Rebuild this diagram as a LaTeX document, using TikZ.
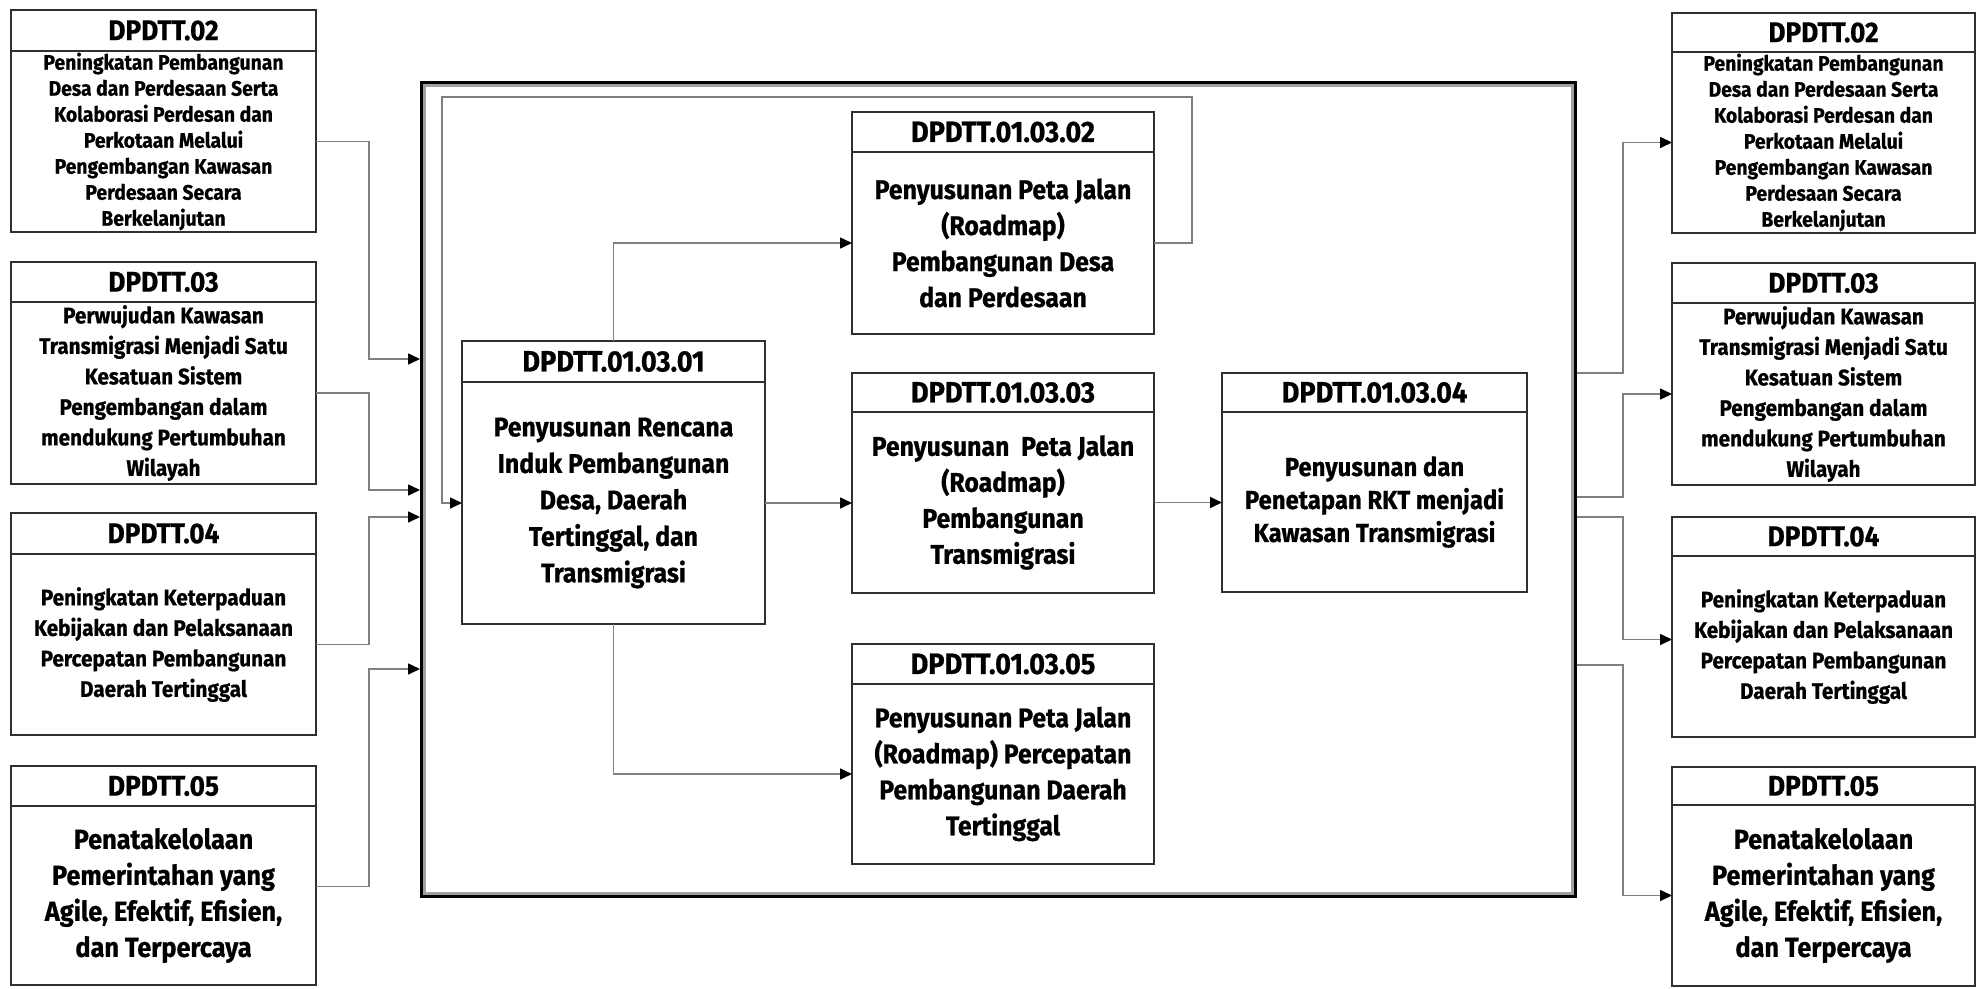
\documentclass[tikz,border=0pt]{standalone}
\usepackage{fontspec}
\setmainfont{Fira Sans}[FakeStretch=0.92, BoldFeatures={FakeBold=0.7}]
\usetikzlibrary{arrows.meta,calc}

\definecolor{boxline}{HTML}{303030}
\definecolor{wirecol}{HTML}{808080}
\definecolor{frameshade}{HTML}{A0A0A0}

\tikzset{
  hdrbox/.style={draw=boxline, line width=1.8pt, outer sep=0pt, inner sep=0pt,
    anchor=north west, font=\bfseries\fontsize{28.5}{30}\selectfont},
  bodybox/.style={draw=boxline, line width=1.8pt, outer sep=0pt, inner xsep=0pt,
    inner ysep=0pt, anchor=north west, align=center},
  wire/.style={draw=wirecol, line width=1.6pt},
  arr/.style={wire, -{Triangle[length=12pt,width=11pt,color=black,fill=black]}},
}

% #1 name, #2 x, #3 y (top), #4 width, #5 header height, #6 body height,
% #7 header text, #8 body font size {size}{skip}, #9 body text
\newcommand\mkbox[9]{%
  \node[hdrbox, minimum width=#4, minimum height=#5] (#1h) at (#2,#3) {#7};
  \node[bodybox, minimum width=#4, minimum height=#6,
    font=\bfseries\fontsize#8\selectfont] (#1) at (#1h.south west) {#9};
}

\begin{document}
\begin{tikzpicture}[x=1pt,y=-1pt]
\useasboundingbox (0,0) rectangle (1976,988);

% outer frame of the sub-activities
\node[draw=black, line width=4pt, minimum width=1153, minimum height=813, inner sep=0pt]
  (frame) at (998.5,489.5) {};
\draw[frameshade, line width=2.5pt]
  ($(frame.north west)+(4.5,4.5)$) rectangle ($(frame.south east)+(-4.5,-4.5)$);

% left column
\mkbox{L2}{11}{10}{305}{41}{181}{DPDTT.02}{{21}{26}}%
  {Peningkatan Pembangunan\\Desa dan Perdesaan Serta\\Kolaborasi Perdesan dan\\Perkotaan Melalui\\Pengembangan Kawasan\\Perdesaan Secara\\Berkelanjutan}
\mkbox{L3}{11}{262}{305}{40}{182}{DPDTT.03}{{22.5}{30.5}}%
  {Perwujudan Kawasan\\Transmigrasi Menjadi Satu\\Kesatuan Sistem\\Pengembangan dalam\\mendukung Pertumbuhan\\Wilayah}
\mkbox{L4}{11}{513}{305}{41}{181}{DPDTT.04}{{22.5}{30.5}}%
  {Peningkatan Keterpaduan\\Kebijakan dan Pelaksanaan\\Percepatan Pembangunan\\Daerah Tertinggal}
\mkbox{L5}{11}{766}{305}{40}{179}{DPDTT.05}{{27.5}{36}}%
  {Penatakelolaan\\Pemerintahan yang\\Agile, Efektif, Efisien,\\dan Terpercaya}

% right column
\mkbox{R2}{1672}{13}{303}{39}{181}{DPDTT.02}{{21}{26}}%
  {Peningkatan Pembangunan\\Desa dan Perdesaan Serta\\Kolaborasi Perdesan dan\\Perkotaan Melalui\\Pengembangan Kawasan\\Perdesaan Secara\\Berkelanjutan}
\mkbox{R3}{1672}{263}{303}{40}{182}{DPDTT.03}{{22.5}{30.5}}%
  {Perwujudan Kawasan\\Transmigrasi Menjadi Satu\\Kesatuan Sistem\\Pengembangan dalam\\mendukung Pertumbuhan\\Wilayah}
\mkbox{R4}{1672}{517}{303}{39}{181}{DPDTT.04}{{22.5}{30.5}}%
  {Peningkatan Keterpaduan\\Kebijakan dan Pelaksanaan\\Percepatan Pembangunan\\Daerah Tertinggal}
\mkbox{R5}{1672}{767}{303}{38}{181}{DPDTT.05}{{27.5}{36}}%
  {Penatakelolaan\\Pemerintahan yang\\Agile, Efektif, Efisien,\\dan Terpercaya}

% activities inside the frame
\tikzset{hdrbox/.append style={font=\bfseries\fontsize{29.5}{31}\selectfont}}
\mkbox{A}{462}{341}{303}{41}{242}{DPDTT.01.03.01}{{27}{36.5}}%
  {Penyusunan Rencana\\Induk Pembangunan\\Desa, Daerah\\Tertinggal, dan\\Transmigrasi}
\mkbox{B}{852}{112}{302}{40}{182}{DPDTT.01.03.02}{{27}{36}}%
  {Penyusunan Peta Jalan\\(Roadmap)\\Pembangunan Desa\\dan Perdesaan}
\mkbox{C}{852}{373}{302}{39}{181}{DPDTT.01.03.03}{{27}{36}}%
  {Penyusunan\ \ Peta Jalan\\(Roadmap)\\Pembangunan\\Transmigrasi}
\mkbox{D}{852}{644}{302}{40}{180}{DPDTT.01.03.05}{{27}{36}}%
  {Penyusunan Peta Jalan\\(Roadmap) Percepatan\\Pembangunan Daerah\\Tertinggal}
\mkbox{E}{1222}{373}{305}{39}{180}{DPDTT.01.03.04}{{26}{33}}%
  {Penyusunan dan\\Penetapan RKT menjadi\\Kawasan Transmigrasi}

% bend points
\coordinate (bL2) at (369,359);
\coordinate (bL3) at (369,490);
\coordinate (bL4) at (369,517);
\coordinate (bL5) at (369,669);
\coordinate (bR2) at (1623,373);
\coordinate (bR3) at (1623,497);
\coordinate (bR4) at (1623,517);
\coordinate (bR5) at (1623,665);
\coordinate (fbR) at (1192,97);
\coordinate (fbL) at (442,97);

% inputs into the frame
\draw[arr] (L2.east) -| (bL2) -- (bL2 -| frame.west);
\draw[arr] (L3.east) -| (bL3) -- (bL3 -| frame.west);
\draw[arr] (L4.east) -| (bL4) -- (bL4 -| frame.west);
\draw[arr] ($(L5.east)+(0,-9)$) -| (bL5) -- (bL5 -| frame.west);

% outputs of the frame
\draw[arr] (bR2 -| frame.east) -- (bR2) |- (R2.west);
\draw[arr] (bR3 -| frame.east) -- (bR3) |- (R3.west);
\draw[arr] (bR4 -| frame.east) -- (bR4) |- ($(R4.west)+(0,-7)$);
\draw[arr] (bR5 -| frame.east) -- (bR5) |- (R5.west);

% flow between the activities
\draw[arr] (Ah.north) |- (B.west);
\draw[arr] (A.south) |- (D.west);
\draw[arr] (A.east) -- (A.east -| C.west);
\draw[arr] (C.east) -- (C.east -| E.west);
\draw[arr] (B.east) -| (fbR) -| (fbL) |- (A.west);
\end{tikzpicture}
\end{document}
